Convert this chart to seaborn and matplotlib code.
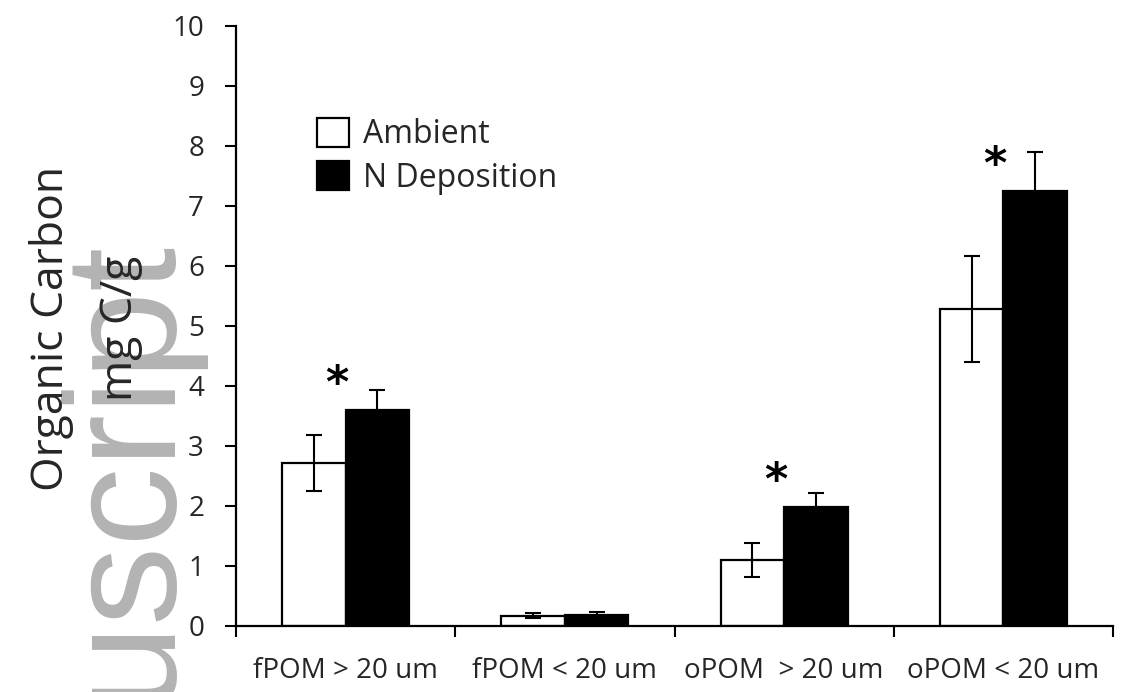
import matplotlib
matplotlib.use("Agg")
import matplotlib.pyplot as plt
from matplotlib.patches import Patch
import seaborn as sns
import pandas as pd

# Values (mg C/g)
fractions = ["fPOM > 20 um", "fPOM < 20 um", "oPOM  > 20 um", "oPOM < 20 um"]
treatments = ["Ambient", "N Deposition"]
ambient_mean = [2.72, 0.17, 1.10, 5.28]
ambient_err = [0.47, 0.04, 0.29, 0.88]
ndep_mean = [3.60, 0.18, 1.98, 7.25]
ndep_err = [0.34, 0.05, 0.24, 0.65]
significant = [True, False, True, True]

df = pd.DataFrame({
    "fraction": fractions * 2,
    "treatment": [treatments[0]] * 4 + [treatments[1]] * 4,
    "carbon": ambient_mean + ndep_mean,
})

sns.set_style("white")
plt.rcParams["font.family"] = ["Open Sans", "DejaVu Sans"]

fig = plt.figure(figsize=(11.27, 6.92), dpi=100)
ax = fig.add_axes([236 / 1127, 1 - 626 / 692, (1113 - 236) / 1127, 600 / 692])

sns.barplot(data=df, x="fraction", y="carbon", hue="treatment",
            palette={"Ambient": "white", "N Deposition": "black"},
            edgecolor="black", linewidth=1.6, width=0.58,
            errorbar=None, legend=False, ax=ax)

# error bars on top of each bar, taken from the bar containers
for cont, errs, means in zip(ax.containers, [ambient_err, ndep_err], [ambient_mean, ndep_mean]):
    xs = [b.get_x() + b.get_width() / 2 for b in cont]
    ax.errorbar(xs, means, yerr=errs, fmt="none", ecolor="black",
                elinewidth=1.5, capsize=5.5, capthick=1.5, zorder=5)

# significance stars
for i, sig in enumerate(significant):
    if sig:
        ax.text(i - 0.04, ndep_mean[i] + 0.42, "*", ha="center", va="center",
                fontsize=32, fontweight="bold", color="black", fontfamily="DejaVu Sans")

ax.set_xlim(-0.5, 3.5)
ax.set_ylim(0, 10)
ax.set_yticks(range(0, 11))
ax.set_xticks(range(4))
ax.set_xticklabels(fractions)
ax.set_xticks([-0.5, 0.5, 1.5, 2.5, 3.5], minor=True)
ax.tick_params(axis="x", which="major", bottom=True, length=0, pad=22, labelsize=20)
ax.tick_params(axis="x", which="minor", bottom=True, length=8, width=1.5,
               direction="out", color="black")
ax.tick_params(axis="y", left=True, length=8, width=1.5, direction="out", color="black",
               pad=15, labelsize=20)
ax.set_xlabel("")
ax.set_ylabel("")
for side in ["top", "right"]:
    ax.spines[side].set_visible(False)
for side in ["left", "bottom"]:
    ax.spines[side].set_color("black")
    ax.spines[side].set_linewidth(1.6)

handles = [Patch(facecolor="white", edgecolor="black", linewidth=1.6),
           Patch(facecolor="black", edgecolor="black", linewidth=1.6)]
ax.legend(handles, treatments, loc="upper left",
          bbox_to_anchor=(317 / 1127, 1 - 118 / 692), bbox_transform=fig.transFigure,
          frameon=False, fontsize=23, handlelength=1.0, handleheight=1.0,
          handletextpad=0.45, labelspacing=0.32, borderpad=0, borderaxespad=0)

# y-axis title, two lines
fig.text(52 / 1127, 1 - 328 / 692, "Organic Carbon", rotation=90, ha="center", va="center",
         fontsize=32, zorder=5)
fig.text(121 / 1127, 1 - 328 / 692, "mg C/g", rotation=90, ha="center", va="center",
         fontsize=32, zorder=5)

# grey watermark running up the left edge
fig.text(166 / 1127, 1 - 236 / 692, "uscript", rotation=90, rotation_mode="anchor",
         ha="right", va="baseline", fontsize=114, color="#b3b3b3",
         fontfamily="Liberation Sans", zorder=1)

fig.savefig("out.png", dpi=100)
